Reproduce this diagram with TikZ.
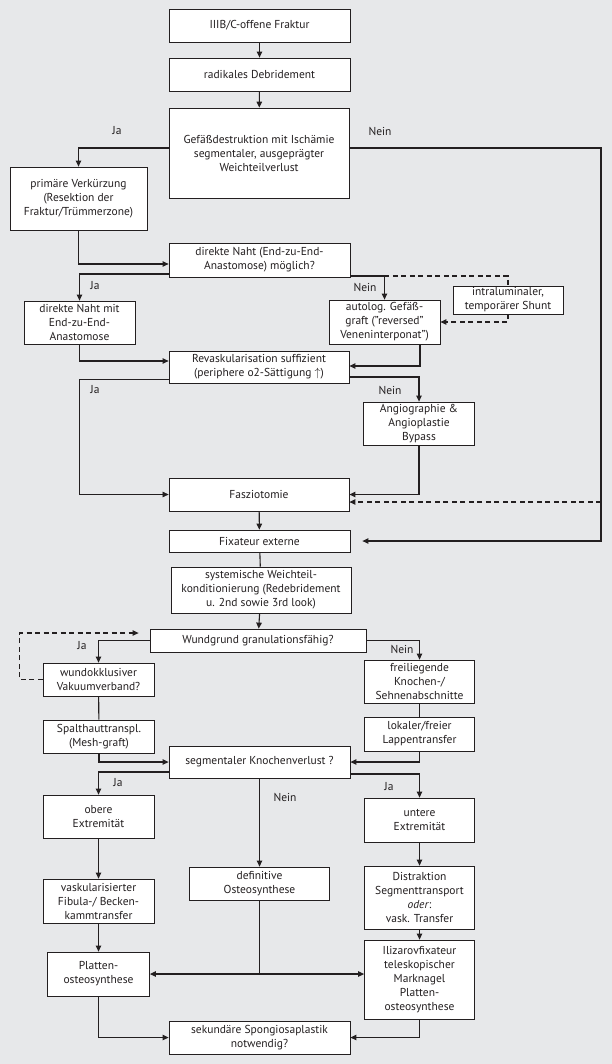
\documentclass[tikz,border=0pt]{standalone}
\usepackage{fontspec}
\setmainfont{PT Sans}
\usetikzlibrary{arrows.meta,calc}
\definecolor{bg}{RGB}{231,232,234}
\definecolor{ink}{RGB}{35,31,32}
\tikzset{
  box/.style={draw=ink, fill=white, line width=0.8pt, align=center, inner sep=1pt,
    font=\fontsize{11.5}{14}\selectfont, text=ink},
  arr/.style={draw=ink, line width=1.1pt, -{Triangle[length=6pt,width=5.5pt]}},
  plain/.style={draw=ink, line width=1.1pt},
  thin/.style={draw=ink, line width=0.6pt, -{Triangle[length=6pt,width=5.5pt]}},
  dashln/.style={draw=ink, line width=1.1pt, dash pattern=on 5pt off 3.5pt},
  dasharr/.style={dashln, -{Triangle[length=6pt,width=5.5pt]}},
  lbl/.style={font=\fontsize{11.5}{12}\selectfont, text=ink, inner sep=0pt}
}
\newcommand{\bx}[6]{\node[box, minimum width=#4pt, minimum height=#5pt] (#1) at (#2,#3) {#6};}
\begin{document}
\begin{tikzpicture}[x=1pt,y=-1pt]
\fill[bg] (0,0) rectangle (612,1064);
\useasboundingbox (0,0) rectangle (612,1064);

\bx{b1}{259.5}{25.5}{181}{33}{IIIB/C-offene Fraktur}
\bx{b2}{259.5}{74.5}{181}{33}{radikales Debridement}
\bx{b3}{259}{153}{180}{90}{Gefäßdestruktion mit Ischämie\\segmentaler, ausgeprägter\\Weichteilverlust}
\bx{b4}{78.5}{198.5}{137}{63}{primäre Verkürzung\\(Resektion der\\Fraktur/Trümmerzone)}
\bx{b5}{259.5}{260}{181}{34}{direkte Naht (End-zu-End-\\Anastomose) möglich?}
\bx{b6}{79.5}{322.5}{111}{43}{direkte Naht mit\\End-zu-End-\\Anastomose}
\bx{b7}{384.5}{322}{111}{44}{autolog. Gefäß-\\graft ("reversed"\\Veneninterponat")}
\bx{shunt}{508}{300}{110}{28}{intraluminaler,\\temporärer Shunt}
\bx{b8}{259}{367}{180}{32}{Revaskularisation suffizient\\(periphere o2-Sättigung $\uparrow$)}
\bx{b9}{419}{423.5}{111}{43}{Angiographie \&\\Angioplastie\\Bypass}
\bx{b10}{259}{494.5}{180}{33}{Fasziotomie}
\bx{b11}{259.5}{541}{181}{22}{Fixateur externe}
\bx{b12}{261}{590}{180}{46}{systemische Weichteil-\\konditionierung (Redebridement\\u. 2nd sowie 3rd look)}
\bx{b13}{258}{640.5}{216}{23}{Wundgrund granulationsfähig?}
\bx{b14}{98.5}{679.5}{111}{33}{wundokklusiver\\Vakuumverband?}
\bx{b15}{419.5}{681.5}{110}{43}{freiliegende\\Knochen-/\\Sehnenabschnitte}
\bx{b16}{99}{736.5}{111}{33}{Spalthauttranspl.\\(Mesh-graft)}
\bx{b17}{419.5}{734}{110}{34}{lokaler/freier\\Lappentransfer}
\bx{b18}{259.5}{762}{181}{32}{segmentaler Knochenverlust ?}
\bx{b19}{98.5}{816.5}{111}{43}{obere\\Extremität}
\bx{b20}{419.5}{820}{110}{44}{untere\\Extremität}
\bx{b21}{98.5}{901}{111}{44}{vaskularisierter\\Fibula-/ Becken-\\kammtransfer}
\bx{b22}{259.5}{883.5}{140}{33}{definitive\\Osteosynthese}
\bx{b23}{419.5}{897.5}{110}{63}{Distraktion\\Segmenttransport\\\textit{oder}:\\vask. Transfer}
\bx{b24}{98.5}{974}{102}{44}{Platten-\\osteosynthese}
\bx{b25}{419.5}{979.5}{110}{79}{Ilizarovfixateur\\teleskopischer\\Marknagel\\Platten-\\osteosynthese}
\bx{b26}{259.5}{1037.5}{181}{33}{sekundäre Spongiosaplastik\\notwendig?}

\coordinate (rail) at (601,541);
\coordinate (railF) at (601,502);

% connectors
\draw[arr] (b1) -- (b2);
\draw[arr] (b2) -- (b3);
\draw[arr] ([yshift=5pt]b3.west) -| (b4.north);
\draw[arr] ([yshift=5pt]b3.east) -| (rail) -- ([xshift=12pt]b11.east);
\draw[dasharr] (railF) -- ([yshift=-7.5pt]b10.east);
\draw[arr] (b4.south) |- ([yshift=-4pt]b5.west);
\draw[arr] ([yshift=-14pt]b5.west) -| (b6.north);
\draw[dashln] ([yshift=-16pt]b5.east) -| (shunt.north);
\draw[arr] ([yshift=-16pt]b5.east) -| (b7.north);
\draw[dasharr] (shunt.south) |- (b7.east);
\draw[arr] (b6.south) |- ([yshift=6pt]b8.west);
\draw[arr] ([xshift=35.5pt]b7.south) |- ([yshift=1pt]b8.east);
\draw[thin] ([yshift=-12pt]b8.west) -| (b6.south |- b10.west) -- (b10.west);
\draw[arr] ([yshift=-10pt]b8.east) -| (b9.north);
\draw[arr] (b9.south) |- (b10.east);
\draw[arr] (b10) -- (b11);
\draw[plain] (b11) -- (b12);
\draw[arr] (b12) -- (b13);
\draw[arr] (b13.west) -| (b14.north);
\draw[arr] (b13.east) -| (b15.north);
\draw[dasharr] (b14.west) -- ++(-23,0) |- ([xshift=-11pt,yshift=7.5pt]b13.west);
\draw[plain] (b14) -- (b16);
\draw[plain] (b15) -- (b17);
\draw[arr] (b16.south) |- (b18.west);
\draw[arr] (b17.south) |- (b18.east);
\draw[arr] ([yshift=-10pt]b18.west) -| (b19.north);
\draw[arr] ([yshift=-12pt]b18.east) -| (b20.north);
\draw[arr] (b18) -- (b22);
\draw[arr] (b19) -- (b21);
\draw[arr] (b20) -- (b23);
\draw[arr] (b23) -- (b25);
\draw[arr] (b21) -- (b24);
\coordinate (split) at (b22.south |- b24.east);
\draw[plain] (b22.south) -- (split);
\draw[arr] (split) -- (b24.east);
\draw[arr] (split) -- (split -| b25.west);
\draw[arr] (b24.south) |- (b26.west);
\draw[arr] (b25.south) |- (b26.east);

% labels
\node[lbl] (l1) at (117,131) {Ja};
\node[lbl] (l2) at (380,131) {Nein};
\node[lbl] (l3) at (95,286) {Ja};
\node[lbl] (l4) at (365,287) {Nein};
\node[lbl] (l5) at (95,390) {Ja};
\node[lbl] (l6) at (390,390) {Nein};
\node[lbl] (l7) at (82,646) {Ja};
\node[lbl] (l8) at (402,649) {Nein};
\node[lbl] (l9) at (118,783) {Ja};
\node[lbl] (l10) at (389,787) {Ja};
\node[lbl] (l11) at (285,797) {Nein};
\end{tikzpicture}
\end{document}
